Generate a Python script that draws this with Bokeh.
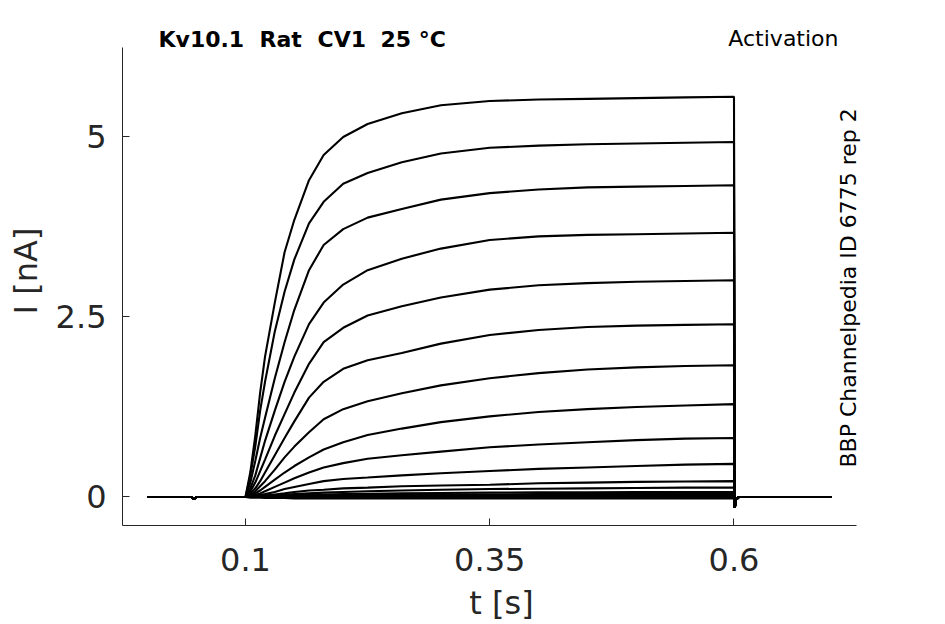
import math
from bokeh.plotting import figure
from bokeh.models import Range1d, FixedTicker, Label
from bokeh.embed import file_html
from bokeh.resources import INLINE

# ---- data ----
t_pre = [0.0, 0.045, 0.047, 0.05, 0.1]
i_pre = [0.0, 0.0, -0.03, 0.0, 0.0]
t_step = [0.1, 0.105, 0.11, 0.115, 0.12, 0.13, 0.14, 0.15, 0.165, 0.18,
          0.2, 0.225, 0.26, 0.3, 0.35, 0.4, 0.45, 0.5, 0.55, 0.6]
t_tail = [0.6008, 0.602, 0.605, 0.7]
i_tail = [-0.15, -0.04, 0.0, 0.0]

trace_1 = [0.0, 0.35, 0.85, 1.45, 1.95, 2.7, 3.4, 3.85, 4.4, 4.75,
           5.0, 5.18, 5.33, 5.44, 5.5, 5.52, 5.53, 5.54, 5.55, 5.56]
trace_2 = [0.0, 0.3, 0.7, 1.2, 1.6, 2.3, 2.85, 3.3, 3.8, 4.1,
           4.35, 4.5, 4.65, 4.77, 4.85, 4.88, 4.9, 4.91, 4.92, 4.93]
trace_3 = [0.0, 0.2, 0.5, 0.82, 1.1, 1.65, 2.15, 2.6, 3.15, 3.5,
           3.72, 3.88, 4.0, 4.13, 4.22, 4.27, 4.3, 4.31, 4.32, 4.33]
trace_4 = [0.0, 0.12, 0.3, 0.54, 0.78, 1.2, 1.6, 1.95, 2.4, 2.7,
           2.95, 3.15, 3.31, 3.45, 3.57, 3.62, 3.64, 3.65, 3.66, 3.67]
trace_5 = [0.0, 0.08, 0.2, 0.36, 0.52, 0.85, 1.15, 1.45, 1.85, 2.15,
           2.35, 2.52, 2.65, 2.77, 2.88, 2.94, 2.97, 2.99, 3.0, 3.01]
trace_6 = [0.0, 0.05, 0.12, 0.22, 0.34, 0.58, 0.82, 1.05, 1.38, 1.6,
           1.78, 1.9, 2.0, 2.13, 2.25, 2.32, 2.36, 2.38, 2.39, 2.4]
trace_7 = [0.0, 0.03, 0.08, 0.15, 0.22, 0.38, 0.55, 0.7, 0.9, 1.08,
           1.22, 1.33, 1.44, 1.55, 1.65, 1.72, 1.77, 1.8, 1.82, 1.83]
trace_8 = [0.0, 0.02, 0.05, 0.09, 0.14, 0.24, 0.34, 0.43, 0.55, 0.66,
           0.76, 0.86, 0.95, 1.04, 1.12, 1.18, 1.22, 1.25, 1.27, 1.29]
trace_9 = [0.0, 0.01, 0.03, 0.05, 0.08, 0.14, 0.2, 0.26, 0.34, 0.41,
           0.47, 0.53, 0.58, 0.63, 0.69, 0.73, 0.76, 0.79, 0.81, 0.82]
trace_10 = [0.0, 0.01, 0.02, 0.03, 0.04, 0.07, 0.11, 0.14, 0.18, 0.22,
            0.25, 0.27, 0.3, 0.33, 0.36, 0.39, 0.41, 0.43, 0.45, 0.46]
trace_11 = [0.0, 0.0, 0.01, 0.015, 0.02, 0.035, 0.05, 0.07, 0.09, 0.1,
            0.12, 0.13, 0.15, 0.16, 0.17, 0.19, 0.2, 0.21, 0.215, 0.22]
trace_12 = [0.0, 0.0, 0.005, 0.01, 0.015, 0.02, 0.03, 0.04, 0.05, 0.06,
            0.07, 0.08, 0.09, 0.1, 0.11, 0.115, 0.12, 0.125, 0.13, 0.13]
trace_13 = [0.0, 0.0, 0.0, 0.005, 0.01, 0.015, 0.02, 0.025, 0.03, 0.035,
            0.04, 0.045, 0.05, 0.055, 0.06, 0.065, 0.065, 0.07, 0.07, 0.07]
trace_14 = [0.0, 0.0, 0.0, 0.0, 0.005, 0.01, 0.01, 0.015, 0.02, 0.02,
            0.025, 0.03, 0.03, 0.035, 0.035, 0.04, 0.04, 0.04, 0.04, 0.04]
trace_15 = [0.0, 0.0, 0.0, 0.0, 0.0, 0.005, 0.005, 0.01, 0.01, 0.01,
            0.015, 0.015, 0.015, 0.02, 0.02, 0.02, 0.02, 0.02, 0.02, 0.02]
trace_16 = [0.0, 0.0, 0.0, 0.0, 0.0, 0.0, 0.0, 0.0, 0.0, 0.0,
            0.0, 0.0, 0.0, 0.0, 0.0, 0.0, 0.0, 0.0, 0.0, 0.0]
trace_17 = [0.0, -0.01, -0.01, -0.01, -0.015, -0.015, -0.015, -0.02, -0.02, -0.02,
            -0.02, -0.02, -0.02, -0.02, -0.02, -0.02, -0.02, -0.02, -0.02, -0.02]

traces = [trace_1, trace_2, trace_3, trace_4, trace_5, trace_6, trace_7, trace_8,
          trace_9, trace_10, trace_11, trace_12, trace_13, trace_14, trace_15,
          trace_16, trace_17]

x_ticks = [0.1, 0.35, 0.6]
x_tick_labels = {0.1: "0.1", 0.35: "0.35", 0.6: "0.6"}
y_ticks = [0, 2.5, 5]
y_tick_labels = {0: "0", 2.5: "2.5", 5: "5"}

title_words = ["Kv10.1", "Rat", "CV1", "25 °C"]
protocol_text = "Activation"
source_text = "BBP Channelpedia ID 6775 rep 2"

# ---- layout geometry (pixels) ----
X0, X1 = -0.0259, 0.7254          # visible x axis extent
Y0, Y1 = -0.396, 6.243            # visible y axis extent
L, R = 122, 856                   # axis pixel extents
B, T = 525, 47
FR_R, FR_T = 880, 16              # frame extended so texts are not clipped
sx = (R - L) / (X1 - X0)
sy = (B - T) / (Y1 - Y0)


def px2x(px):
    return X0 + (px - L) / sx


def py2y(py):
    return Y0 + (B - py) / sy


AX = "#262626"
p = figure(output_backend="svg", toolbar_location=None,
           x_range=Range1d(X0, px2x(FR_R)), y_range=Range1d(Y0, py2y(FR_T)),
           frame_width=FR_R - L, frame_height=B - FR_T,
           min_border_left=L, min_border_right=929 - FR_R, min_border_top=FR_T,
           min_border_bottom=91)
p.outline_line_color = None
p.grid.visible = False
p.background_fill_color = "white"
p.border_fill_color = "white"

for tr in traces:
    xs = t_pre + t_step + t_tail
    ys = i_pre + tr + i_tail
    p.line(xs, ys, line_color="black", line_width=2.1)

for ax in (p.xaxis[0], p.yaxis[0]):
    ax.axis_line_color = AX
    ax.axis_line_width = 1
    ax.major_tick_line_color = AX
    ax.major_tick_in = 7
    ax.major_tick_out = 0
    ax.minor_tick_line_color = None
    ax.major_label_text_font = "DejaVu Sans"
    ax.major_label_text_font_size = "32px"
    ax.major_label_text_color = AX
    ax.axis_label_text_font = "DejaVu Sans"
    ax.axis_label_text_font_size = "32px"
    ax.axis_label_text_color = AX
    ax.axis_label_text_font_style = "normal"

p.xaxis.bounds = (X0, X1)
p.yaxis.bounds = (Y0, Y1)
p.xaxis.ticker = FixedTicker(ticks=x_ticks)
p.xaxis.major_label_overrides = x_tick_labels
p.yaxis.ticker = FixedTicker(ticks=y_ticks)
p.yaxis.major_label_overrides = y_tick_labels
p.xaxis.axis_label = "t [s]"
p.yaxis.axis_label = "I [nA]"
p.xaxis.major_label_standoff = 22
p.xaxis.axis_label_standoff = 10
p.yaxis.major_label_standoff = 16
p.yaxis.axis_label_standoff = 8

# title words (double-spaced in the original)
word_px = [158, 259, 317, 380]
for w, wx in zip(title_words, word_px):
    p.add_layout(Label(x=px2x(wx), y=py2y(39), text=w, text_font="DejaVu Sans",
                       text_font_size="22px", text_font_style="bold",
                       text_color="black", text_align="left",
                       text_baseline="alphabetic"))
p.add_layout(Label(x=px2x(838), y=py2y(38), text=protocol_text,
                   text_font="DejaVu Sans", text_font_size="22px",
                   text_color="black", text_align="right",
                   text_baseline="alphabetic"))
p.add_layout(Label(x=px2x(848), y=py2y(467), text=source_text,
                   text_font="DejaVu Sans", text_font_size="22px",
                   text_color="black", text_align="left",
                   text_baseline="alphabetic",
                   angle=math.pi / 2, angle_units="rad"))

open("out.html", "w").write(file_html(p, INLINE))
